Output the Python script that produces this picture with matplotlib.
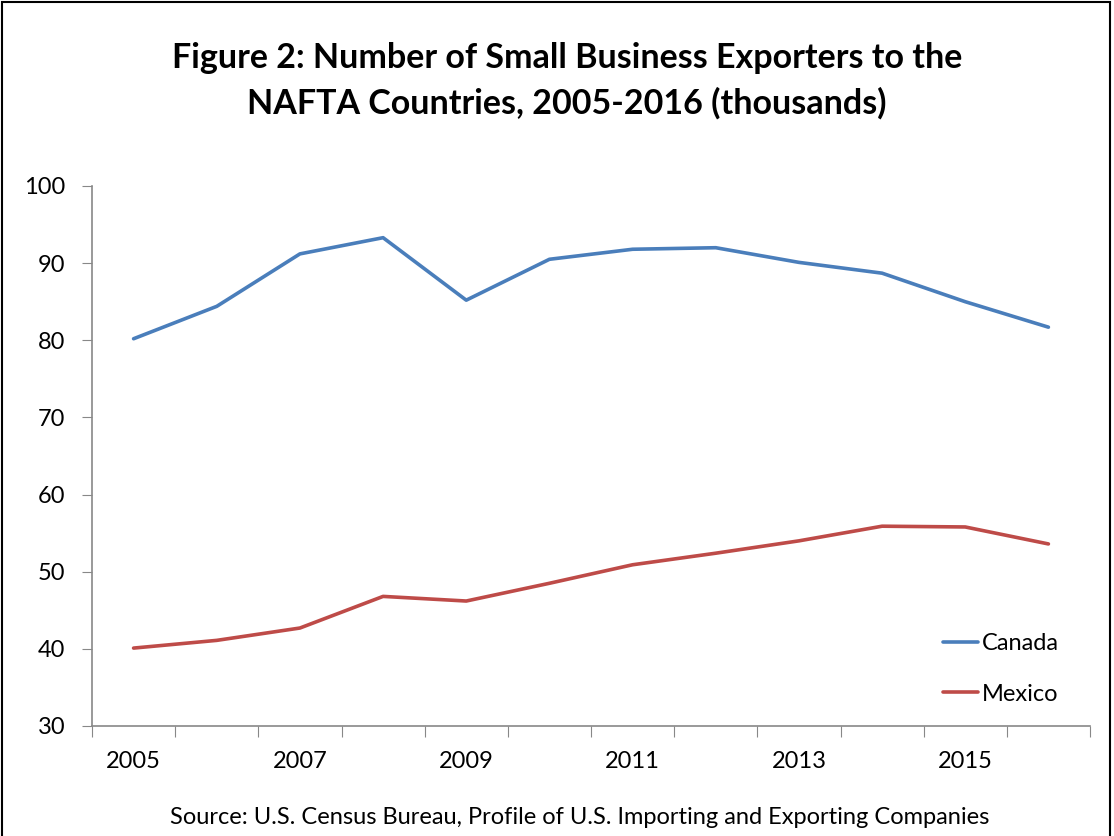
import matplotlib.pyplot as plt
from matplotlib.patches import Rectangle

years = list(range(2005, 2017))
canada = [80.2, 84.4, 91.2, 93.3, 85.2, 90.5, 91.8, 92.0, 90.1, 88.7, 85.0, 81.7]
mexico = [40.1, 41.1, 42.7, 46.8, 46.2, 48.5, 50.9, 52.4, 54.0, 55.9, 55.8, 53.6]
tick_labels = ["2005", "2007", "2009", "2011", "2013", "2015"]

plt.rcParams['font.family'] = ['Lato', 'DejaVu Sans']

fig = plt.figure(figsize=(11.14, 8.36), dpi=100)
ax = fig.add_axes([92 / 1114, 1 - 726 / 836, (1090 - 92) / 1114, 540 / 836])

x = list(range(len(years)))
ax.plot(x, canada, color='#4A7EBB', lw=2.6, label='Canada', solid_capstyle='round')
ax.plot(x, mexico, color='#BE4B48', lw=2.6, label='Mexico', solid_capstyle='round')

ax.set_xlim(-0.5, len(years) - 0.5)
ax.set_ylim(30, 100)
ax.set_yticks(range(30, 101, 10))
ax.tick_params(axis='y', labelsize=17, length=7, color='#888888', pad=12)

# tick marks between categories, labels on every other category
ax.set_xticks([i - 0.5 for i in range(len(years) + 1)])
ax.set_xticklabels([])
ax.set_xticks(list(range(0, len(years), 2)), minor=True)
ax.set_xticklabels(tick_labels, minor=True)
ax.tick_params(axis='x', which='major', length=8, color='#888888')
ax.tick_params(axis='x', which='minor', length=0, labelsize=17, pad=18)

for s in ['top', 'right']:
    ax.spines[s].set_visible(False)
for s in ['left', 'bottom']:
    ax.spines[s].set_color('#888888')
    ax.spines[s].set_linewidth(1.2)

ax.legend(loc='lower right', bbox_to_anchor=(0.99, 0.0), frameon=False,
          fontsize=17, handlelength=1.5, handletextpad=0.15, labelspacing=1.25)

title_x = 567 / 1114
fig.text(title_x, 1 - 58 / 836, "Figure 2: Number of Small Business Exporters to the",
         ha='center', va='center', fontsize=24.5, fontweight='bold')
fig.text(title_x, 1 - 103 / 836, "NAFTA Countries, 2005-2016 (thousands)",
         ha='center', va='center', fontsize=24.5, fontweight='bold')
fig.text(580 / 1114, 1 - 818 / 836,
         "Source: U.S. Census Bureau, Profile of U.S. Importing and Exporting Companies",
         ha='center', va='center', fontsize=17)

fig.patches.append(Rectangle((0.002, -0.01), 0.994, 1.008, transform=fig.transFigure,
                             fill=False, edgecolor='black', lw=1.5))

fig.savefig('out.png', dpi=100)
